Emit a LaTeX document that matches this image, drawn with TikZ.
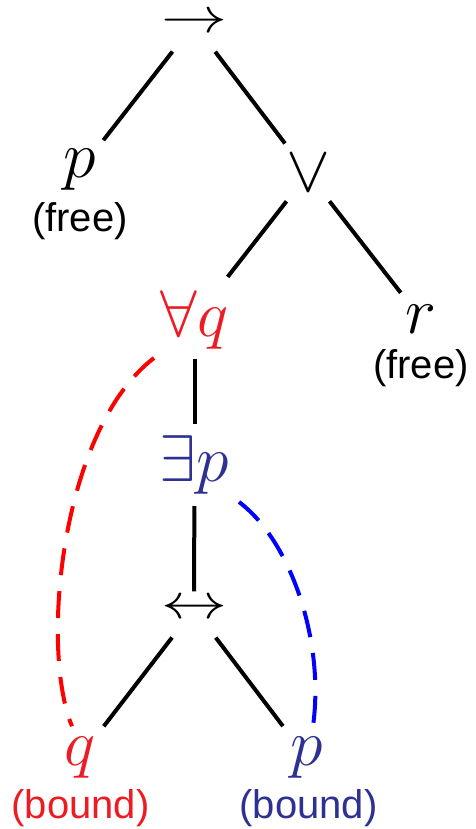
\RequirePackage{fix-cm}
\documentclass[tikz,border=0pt]{standalone}
\usepackage{fontspec}
\newfontfamily\labelfont{Liberation Sans}
\usetikzlibrary{calc}
\definecolor{redtext}{RGB}{237,28,36}
\definecolor{bluetext}{RGB}{46,49,146}
\definecolor{reddash}{RGB}{255,0,0}
\definecolor{bluedash}{RGB}{0,0,255}
\tikzset{
  sym/.style={inner sep=0pt, anchor=base, font=\fontsize{66}{79}\selectfont},
  lab/.style={inner sep=0pt, anchor=base, font=\labelfont\fontsize{40}{48}\selectfont},
  edge/.style={line width=4pt},
  bind/.style={line width=4pt, dash pattern=on 27pt off 16pt},
}
\begin{document}
\begin{tikzpicture}[x=1pt,y=-1pt]
\useasboundingbox (0,0) rectangle (475,829);
\node[sym] (imp) at (194,33) {\scalebox{1}[0.75]{$\rightarrow$}};
\node[sym] (p1) at (80,178) {$p$};
\node[lab] (f1) at (80,231.5) {(free)};
\node[sym] (or) at (308,192) {$\vee$};
\node[sym,text=redtext] (all) at (194.5,336) {$\forall q$};
\node[sym] (r) at (421,333) {$r$};
\node[lab] (f2) at (421,378.5) {(free)};
\node[sym,text=bluetext] (ex) at (194.5,481) {$\exists p$};
\node[sym] (iff) at (194,618) {\scalebox{1}[0.75]{$\leftrightarrow$}};
\node[sym,text=redtext] (q) at (80,765) {$q$};
\node[lab,text=redtext] (b1) at (80.5,818) {(bound)};
\node[sym,text=bluetext] (p2) at (306.5,765) {$p$};
\node[lab,text=bluetext] (b2) at (308.5,818) {(bound)};

\draw[edge,shorten <=35pt,shorten >=38pt] (imp.center) -- (p1.center);
\draw[edge,shorten <=35pt,shorten >=38pt] (imp.center) -- (or.center);
\draw[edge,shorten <=35pt,shorten >=54pt] (or.center) -- (all.center);
\draw[edge,shorten <=35pt,shorten >=33pt] (or.center) -- (r.center);
\draw[edge,shorten <=39.5pt,shorten >=40.5pt] (all.center) -- (ex.center);
\draw[edge,shorten <=41.5pt,shorten >=17.5pt] (ex.center) -- (iff.center);
\draw[edge,shorten <=36pt,shorten >=39pt] (iff.center) -- (q.center);
\draw[edge,shorten <=36pt,shorten >=39pt] (iff.center) -- (p2.center);

\draw[bind,draw=reddash] ([shift={(-40.5,38.5)}]all.center) .. controls (60,430) and (40,650) .. ([shift={(-8,-31)}]q.center);
\draw[bind,draw=bluedash] ([shift={(44.5,37.5)}]ex.center) .. controls (290,540) and (325,640) .. ([shift={(6.5,-31)}]p2.center);
\end{tikzpicture}
\end{document}
